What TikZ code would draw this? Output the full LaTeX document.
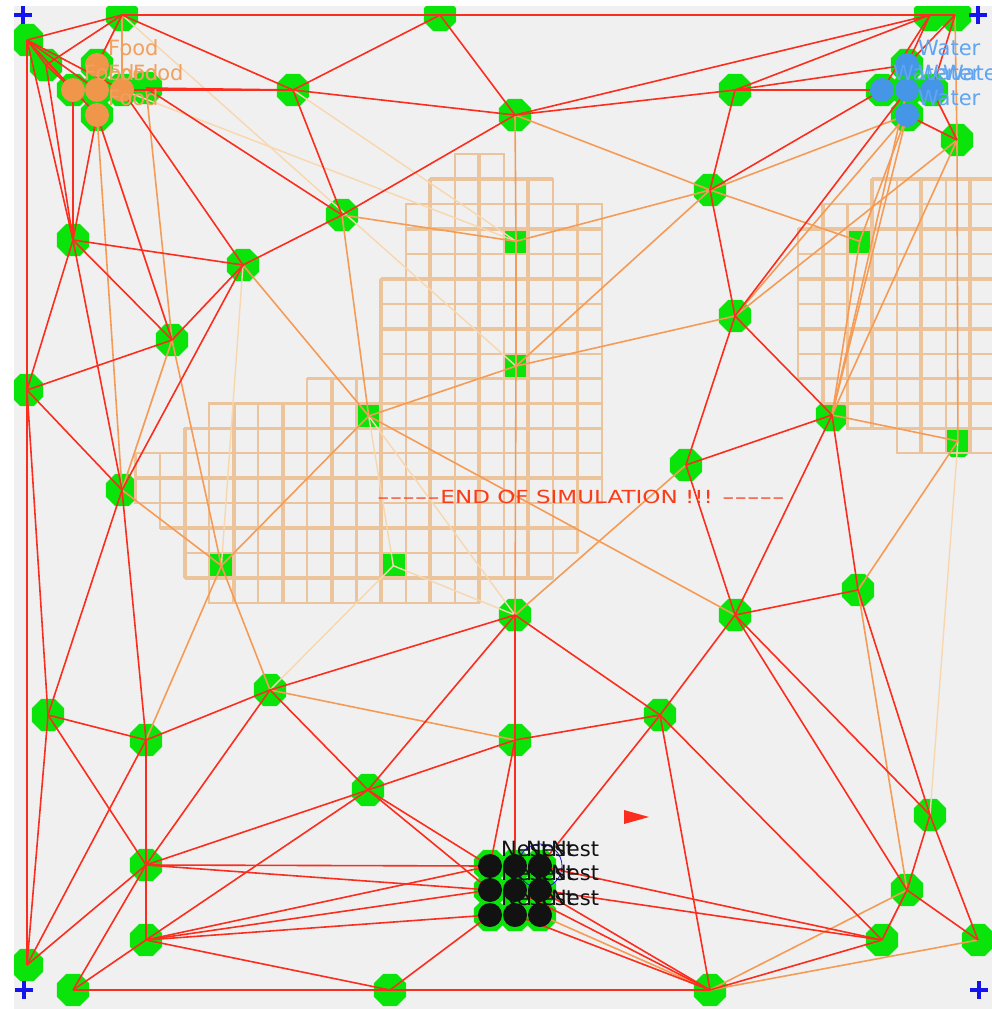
\documentclass[tikz,border=0pt]{standalone}
\usepackage{fontspec}
\setmainfont{DejaVu Sans}
\usepackage{graphicx}
\usetikzlibrary{shapes.geometric}
\definecolor{bg}{RGB}{240,240,240}
\definecolor{gn}{RGB}{10,228,10}
\definecolor{er}{RGB}{250,45,30}
\definecolor{eo}{RGB}{245,155,85}
\definecolor{el}{RGB}{248,215,175}
\definecolor{gl}{RGB}{236,196,156}
\definecolor{foodc}{RGB}{240,150,75}
\definecolor{foodt}{RGB}{240,160,95}
\definecolor{waterc}{RGB}{70,150,232}
\definecolor{watert}{RGB}{95,165,240}
\definecolor{nestc}{RGB}{18,18,18}
\definecolor{endc}{RGB}{250,60,25}
\definecolor{plusc}{RGB}{20,20,235}
\newcommand\gx[1]{135.5+24.55*#1}
\newcommand\gy[1]{154+24.95*#1}
\newcommand\cellrows{0/13/14, 1/12/16, 1/30/34, 2/11/18, 2/28/34, 3/11/18, 3/27/34, 4/11/18, 4/27/34, 5/10/18, 5/27/34, 6/10/18, 6/27/34, 7/10/18, 7/27/34, 8/10/18, 8/27/34, 9/7/18, 9/28/34, 10/3/18, 10/29/34, 11/2/18, 11/31/34, 12/0/18, 13/0/18, 14/1/17, 15/2/17, 16/2/16, 17/3/13}
\newcommand\cellnode[3]{\begin{scope}\clip ({\gx{#2}},{\gy{#3}}) rectangle +(24.55,24.95);
  \node[gnode] (#1x) at (#1.center) {};\end{scope}}
\newcommand\dd{–\kern0.8pt}
\begin{document}
\begin{tikzpicture}[x=1pt,y=-1pt,
  gnode/.style={regular polygon, regular polygon sides=8, minimum size=35pt, inner sep=0pt, fill=gn, draw=none},
  redE/.style={draw=er, line width=1.6pt},
  orE/.style={draw=eo, line width=1.6pt},
  ltE/.style={draw=el, line width=1.4pt},
  thin grid/.style={draw=gl, line width=2.1pt},
  thick grid/.style={draw=gl, line width=3.8pt},
  lbl/.style={anchor=base west, inner sep=0pt, font=\fontsize{21}{21}\selectfont},
  plusmark/.style={draw=plusc, line width=3.5pt}]
\useasboundingbox (0,0) rectangle (992,1009);
\fill[white] (0,0) rectangle (992,1009);
\fill[bg] (14,6) rectangle (992,1009);
\begin{scope}
\clip (14,6) rectangle (992,1009);
% ---------- green nodes
\node[gnode] (A) at (27,40) {};
\node[gnode] (B) at (46,65) {};
\node[gnode] (C) at (122,15) {};
\node[gnode] (D) at (440,15) {};
\node[gnode] (E) at (930,15) {};
\node[gnode] (F) at (955,15) {};
\node[gnode] (G) at (293,90) {};
\node[gnode] (H) at (515,115) {};
\node[gnode] (I) at (735,90) {};
\node[gnode] (J) at (957,140) {};
\node[gnode] (K) at (710,190) {};
\node[gnode] (L) at (342,215) {};
\node[gnode] (M) at (73,240) {};
\node[gnode] (N) at (243,265) {};
\node[gnode] (O) at (516,241.3) {};
\node[gnode] (P) at (859.7,241.3) {};
\node[gnode] (Q) at (172,340) {};
\node[gnode] (R) at (735,316) {};
\node[gnode] (S) at (27,390) {};
\node[gnode] (T) at (516,366.1) {};
\node[gnode] (U) at (368.7,416) {};
\node[gnode] (V) at (832,415) {};
\node[gnode] (W) at (957.9,441) {};
\node[gnode] (X) at (686,465) {};
\node[gnode] (Y) at (122,490) {};
\node[gnode] (Z) at (221.4,565.7) {};
\node[gnode] (AA) at (393.3,565.7) {};
\node[gnode] (AB) at (515,615) {};
\node[gnode] (AC) at (858,590) {};
\node[gnode] (AD) at (735,615) {};
\node[gnode] (AE) at (270,690) {};
\node[gnode] (AF) at (48,715) {};
\node[gnode] (AG) at (146,740) {};
\node[gnode] (AH) at (660,715) {};
\node[gnode] (AI) at (515,740) {};
\node[gnode] (AJ) at (368,790) {};
\node[gnode] (AK) at (930,815) {};
\node[gnode] (AL) at (146,865) {};
\node[gnode] (AM) at (907,890) {};
\node[gnode] (AN) at (27,965) {};
\node[gnode] (AO) at (146,940) {};
\node[gnode] (AP) at (882,940) {};
\node[gnode] (AQ) at (978,940) {};
\node[gnode] (AR) at (73,990) {};
\node[gnode] (AS) at (390,990) {};
\node[gnode] (AT) at (710,990) {};
% food, water, nest agents (green under-layer)
\node[gnode] (fa) at (97,65) {};
\node[gnode] (fb) at (73,90) {};
\node[gnode] (fc) at (97,90) {};
\node[gnode] (fd) at (122,90) {};
\node[gnode] (fe) at (97,115) {};
\node[gnode] (fg) at (146,88) {};
\node[gnode] (wa) at (907,65) {};
\node[gnode] (wb) at (882,90) {};
\node[gnode] (wc) at (907,90) {};
\node[gnode] (wd) at (932,90) {};
\node[gnode] (we) at (907,115) {};
\node[gnode] (n11) at (490,866) {};
\node[gnode] (n12) at (515,866) {};
\node[gnode] (n13) at (540,866) {};
\node[gnode] (n21) at (490,890) {};
\node[gnode] (n22) at (515,890) {};
\node[gnode] (n23) at (540,890) {};
\node[gnode] (n31) at (490,915) {};
\node[gnode] (n32) at (515,915) {};
\node[gnode] (n33) at (540,915) {};
% ---------- grid (opaque cells)
\foreach \gr/\ga/\gb in \cellrows {
  \foreach \gc in {\ga,...,\gb} {
    \fill[bg] ({\gx{\gc}},{\gy{\gr}}) rectangle +(24.55,24.95);
  }
}
\cellnode{O}{15}{3}
\cellnode{T}{15}{8}
\cellnode{U}{9}{10}
\cellnode{Z}{3}{16}
\cellnode{AA}{10}{16}
\cellnode{P}{29}{3}
\cellnode{W}{33}{11}
\foreach \gr/\ga/\gb in \cellrows {
  \foreach \gc in {\ga,...,\gb} {
    \pgfmathsetmacro\xa{\gx{\gc}}
    \pgfmathsetmacro\ya{\gy{\gr}}
    \draw[thin grid] (\xa,\ya) rectangle +(24.55,24.95);
    \ifodd\gc \draw[thick grid] (\xa+24.55,\ya) -- +(0,24.95); \else \draw[thick grid] (\xa,\ya) -- +(0,24.95); \fi
    \ifodd\gr \draw[thick grid] (\xa,\ya) -- +(24.55,0); \else \draw[thick grid] (\xa,\ya+24.95) -- +(24.55,0); \fi
  }
}
% ---------- connectors
\foreach \ea/\eb in {C/T, G/O, fd/O, N/Z, W/AK, U/AB, AA/AE, AA/U, AA/AB}
  \draw[ltE] (\ea.center) -- (\eb.center);
\foreach \ea/\eb in {C/fd, fe/Y, fg/Q, H/K, H/O, K/we, K/P, L/O, O/K, T/K, T/R, T/U, L/U, N/U, O/T, T/AB, Q/Y, Q/Z, Y/Z, Z/U, Z/AE, Z/AG,
  F/J, J/W, J/V, J/R, we/P, we/V, wc/V, V/W, W/AC, P/V, we/R,
  U/AD, AB/X, AE/AI, AC/AM, AM/AT, AQ/AT, AT/n33}
  \draw[orE] (\ea.center) -- (\eb.center);
\foreach \ea/\eb in {A/C, A/B, A/S, A/M, A/fb, A/fc, A/fd, A/fe, B/M, B/fb, C/B, C/fa, C/G, C/D, D/E, E/F,
  fd/G, fg/G, fg/L, fd/N, fe/M, fb/M, fe/Q,
  G/D, G/H, G/L, D/H, H/L, H/I, H/E, I/E, I/K, I/wb, I/wa, E/wa, F/wa, F/wd, E/wb,
  K/R, K/wb, L/N, N/M, N/Q, N/Y, M/Q, M/S, M/Y, Q/S, S/Y, S/AF, S/AN, Y/AF, Y/AG,
  wd/J, we/J, wc/R,
  R/V, R/X, V/X, V/AD, V/AC, X/AD,
  AB/AH, AB/AE, AB/AJ, AB/AI,
  AE/AJ, AE/AG, AE/AL, AJ/AI, AJ/AL, AJ/AO, AJ/n11, AJ/n21,
  AI/AH, AI/n12, AI/n11, AH/AD, AH/AT, AH/AP, AH/n13,
  AD/AC, AD/AK, AD/AM, AC/AK, AK/AM, AK/AQ, AM/AP, AM/AQ, AP/AT, AP/n23, AP/n13,
  AT/n32, AT/n23, AT/n22, AS/AT, AS/AR, AS/n31, AS/AO, AO/n21, AO/n31, AO/n11,
  AL/n11, AL/n21, AO/AL, AO/AR, AN/AL, AN/AG, AN/AF, AF/AG, AF/AL, AG/AL, AR/AL}
  \draw[redE] (\ea.center) -- (\eb.center);
% ---------- agents
\draw[plusc, line width=0.8pt] (n13.center) circle (22);
\foreach \fn in {fa,fb,fc,fd,fe} \fill[foodc] (\fn.center) circle (12);
\foreach \wn in {wa,wb,wc,wd,we} \fill[waterc] (\wn.center) circle (12);
\foreach \nn in {n11,n12,n13,n21,n22,n23,n31,n32,n33} \fill[nestc] (\nn.center) circle (12);
% labels
\node[lbl, text=foodt] (lfb) at (84,80) {Food};
\node[lbl, text=foodt] (lfa) at (108,55) {Food};
\node[lbl, text=foodt] (lfc) at (108,80) {Food};
\node[lbl, text=foodt] (lfd) at (133,80) {Food};
\node[lbl, text=foodt] (lfe) at (108,105) {Food};
\node[lbl, text=watert] (lwb) at (893,80) {Water};
\node[lbl, text=watert] (lwa) at (918,55) {Water};
\node[lbl, text=watert] (lwc) at (918,80) {Water};
\node[lbl, text=watert] (lwd) at (943,80) {Water};
\node[lbl, text=watert] (lwe) at (918,105) {Water};
\node[lbl, text=nestc] (ln11) at (501,856) {Nest};
\node[lbl, text=nestc] (ln12) at (526,856) {Nest};
\node[lbl, text=nestc] (ln13) at (551,856) {Nest};
\node[lbl, text=nestc] (ln21) at (501,880) {Nest};
\node[lbl, text=nestc] (ln22) at (526,880) {Nest};
\node[lbl, text=nestc] (ln23) at (551,880) {Nest};
\node[lbl, text=nestc] (ln31) at (501,905) {Nest};
\node[lbl, text=nestc] (ln32) at (526,905) {Nest};
\node[lbl, text=nestc] (ln33) at (551,905) {Nest};
% end text
\node[anchor=base, inner sep=0pt, text=endc, font=\fontsize{18}{18}\selectfont] (endtxt) at (581,503)
  {\scalebox{1.28}[1]{\dd\dd\dd\dd\dd END OF SIMULATION !!! \dd\dd\dd\dd–}};
% flag
\fill[er] (624,810) -- (649,817) -- (624,824) -- cycle;
% corner markers
\foreach \px/\py in {23/15, 978/15, 24/990, 979/990}
  \draw[plusmark] (\px-9,\py) -- (\px+9,\py) (\px,\py-9) -- (\px,\py+9);
\end{scope}
\end{tikzpicture}
\end{document}
